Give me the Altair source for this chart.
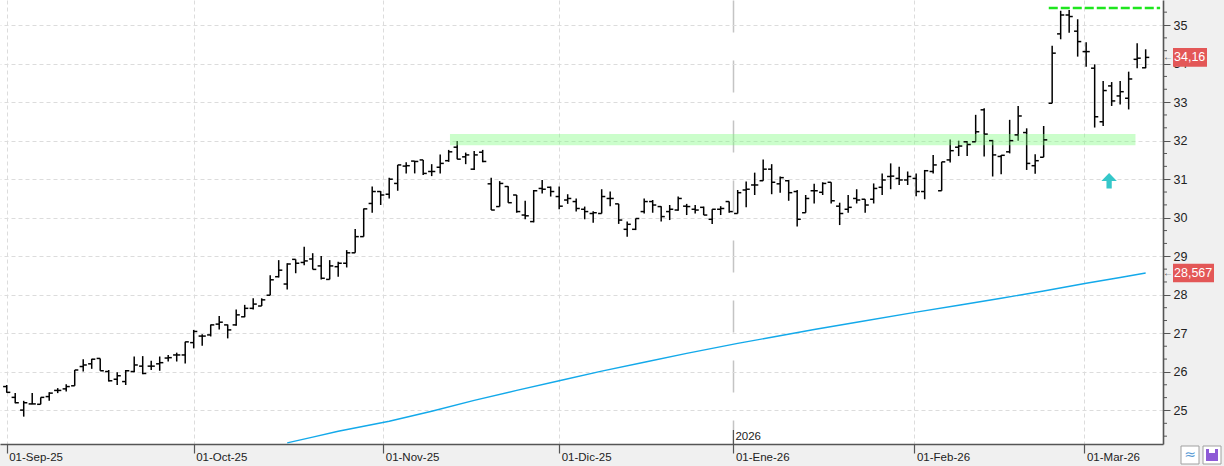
import json
import altair as alt
import pandas as pd

# ---------------- data ----------------
opens = [25.62, 25.34, 25.01, 25.17, 25.16, 25.36, 25.52, 25.56, 25.64, 26.14,
         26.21, 26.35, 26.01, 25.81, 25.75, 26.01, 26.15, 26.15, 26.21, 26.36,
         26.44, 26.44, 26.76, 26.93, 26.96, 27.24, 27.22, 27.22, 27.43, 27.65,
         27.71, 27.99, 28.47, 28.28, 28.92, 28.84, 28.93, 28.75, 28.40, 28.73,
         28.82, 29.09, 29.51, 30.37, 30.68, 30.61, 30.89, 31.34, 31.47, 31.50,
         31.20, 31.31, 31.48, 31.83, 31.58, 31.26, 31.70, 30.88, 30.29, 30.81,
         30.59, 30.07, 29.90, 30.76, 30.79, 30.55, 30.46, 30.42, 30.22, 30.11,
         30.11, 30.50, 30.36, 29.70, 29.70, 30.16, 30.42, 30.29, 30.16, 30.20,
         30.30, 30.22, 30.27, 29.96, 30.22, 30.42, 30.11, 30.72, 30.85, 30.96,
         31.26, 30.88, 30.96, 30.68, 30.13, 30.70, 30.66, 30.92, 30.30, 30.22,
         30.50, 30.48, 30.48, 30.79, 31.07, 31.02, 30.98, 31.02, 30.68, 31.20,
         30.70, 31.50, 31.83, 31.97, 31.97, 32.80, 32.00, 31.59, 31.71, 32.15,
         32.21, 31.35, 31.57, 32.97, 34.77, 35.26, 34.84, 34.31, 33.88, 32.49,
         33.42, 33.16, 33.10, 34.11, 33.89]
highs = [25.66, 25.45, 25.25, 25.45, 25.34, 25.47, 25.58, 25.68, 26.05, 26.33,
         26.34, 26.35, 26.05, 25.99, 26.05, 26.40, 26.41, 26.29, 26.40, 26.44,
         26.50, 26.78, 27.09, 26.98, 27.23, 27.45, 27.23, 27.62, 27.74, 27.91,
         27.91, 28.51, 28.90, 28.82, 28.92, 29.25, 29.08, 29.01, 28.90, 28.86,
         29.16, 29.71, 30.24, 30.81, 30.69, 31.04, 31.37, 31.44, 31.47, 31.50,
         31.39, 31.64, 31.76, 31.99, 31.69, 31.73, 31.76, 31.04, 30.95, 30.82,
         30.59, 30.44, 30.72, 30.98, 30.81, 30.81, 30.61, 30.50, 30.29, 30.17,
         30.74, 30.68, 30.36, 29.90, 29.98, 30.50, 30.46, 30.30, 30.33, 30.55,
         30.36, 30.33, 30.29, 30.22, 30.30, 30.42, 30.72, 30.94, 31.17, 31.51,
         31.39, 31.07, 30.98, 30.72, 30.59, 30.88, 30.92, 30.92, 30.39, 30.59,
         30.74, 30.48, 30.89, 31.15, 31.41, 31.32, 31.20, 31.15, 31.24, 31.63,
         31.45, 32.03, 32.00, 31.99, 32.67, 32.84, 32.02, 31.63, 32.54, 32.90,
         32.32, 31.65, 32.38, 34.46, 35.37, 35.39, 35.15, 34.55, 33.98, 33.55,
         33.52, 33.55, 33.79, 34.53, 34.37]
lows = [25.46, 25.19, 24.84, 25.16, 25.16, 25.25, 25.45, 25.49, 25.64, 26.01,
        26.08, 26.03, 25.75, 25.66, 25.66, 25.99, 25.94, 26.05, 26.03, 26.27,
        26.27, 26.22, 26.61, 26.68, 26.92, 27.10, 26.87, 27.20, 27.42, 27.62,
        27.71, 27.99, 28.45, 28.14, 28.56, 28.77, 28.66, 28.40, 28.40, 28.47,
        28.71, 29.09, 29.51, 30.13, 30.33, 30.50, 30.70, 31.15, 31.15, 31.11,
        31.08, 31.15, 31.45, 31.52, 31.39, 31.24, 31.44, 30.20, 30.29, 30.39,
        30.13, 29.96, 29.88, 30.63, 30.55, 30.22, 30.36, 30.16, 29.96, 29.87,
        30.11, 30.30, 29.84, 29.51, 29.68, 30.11, 30.13, 29.90, 29.94, 30.18,
        30.07, 30.11, 30.07, 29.84, 30.07, 30.13, 30.11, 30.27, 30.59, 30.96,
        30.61, 30.65, 30.44, 29.77, 30.13, 30.37, 30.59, 30.37, 29.81, 30.13,
        30.37, 30.13, 30.37, 30.59, 30.74, 30.85, 30.85, 30.56, 30.48, 31.15,
        30.70, 31.43, 31.60, 31.60, 31.97, 31.59, 31.07, 31.13, 31.67, 32.00,
        31.24, 31.14, 31.57, 32.97, 34.63, 34.80, 34.18, 33.92, 32.34, 32.38,
        32.90, 32.94, 32.81, 33.88, 33.88]
closes = [25.47, 25.20, 25.20, 25.17, 25.34, 25.45, 25.52, 25.62, 26.05, 26.18,
          26.33, 26.03, 25.77, 25.90, 26.03, 26.18, 25.96, 26.15, 26.24, 26.37,
          26.44, 26.78, 27.05, 26.93, 27.22, 27.29, 27.09, 27.48, 27.65, 27.76,
          27.87, 28.39, 28.64, 28.80, 28.82, 28.88, 28.66, 28.43, 28.75, 28.82,
          29.09, 29.51, 30.23, 30.68, 30.59, 31.00, 31.37, 31.35, 31.46, 31.15,
          31.20, 31.41, 31.71, 31.52, 31.63, 31.63, 31.46, 30.20, 30.89, 30.39,
          30.16, 30.05, 30.70, 30.74, 30.68, 30.30, 30.50, 30.24, 30.16, 30.13,
          30.55, 30.50, 29.94, 29.83, 29.98, 30.42, 30.33, 30.03, 30.22, 30.50,
          30.29, 30.20, 30.07, 30.22, 30.24, 30.16, 30.65, 30.74, 30.85, 31.26,
          30.92, 31.04, 30.65, 29.96, 30.50, 30.70, 30.89, 30.44, 30.11, 30.27,
          30.46, 30.33, 30.76, 30.98, 31.08, 30.98, 31.07, 30.68, 31.22, 31.37,
          31.45, 31.74, 31.86, 31.90, 32.23, 32.17, 31.63, 31.62, 32.00, 32.64,
          31.41, 31.48, 32.02, 34.27, 35.26, 35.22, 34.57, 34.31, 32.62, 33.30,
          33.03, 33.27, 33.60, 34.14, 34.16]

# moving average (blue line), read at selected bars
sma_bar = [33, 36, 39, 42, 45, 50, 55, 60, 65, 70, 75, 80, 86, 90, 95, 100,
           107, 112, 117, 122, 127, 131, 134]
sma_val = [24.16, 24.31, 24.46, 24.59, 24.72, 24.98, 25.26, 25.52, 25.77, 26.02,
           26.25, 26.48, 26.74, 26.90, 27.10, 27.29, 27.55, 27.73, 27.91, 28.10,
           28.30, 28.45, 28.567]

# month starts (bar position) and their labels
month_pos = [0, 22, 44.3, 65, 85.5, 106.8, 126.8]
month_labels = ["01-Sep-25", "01-Oct-25", "01-Nov-25", "01-Dic-25",
                "01-Ene-26", "01-Feb-26", "01-Mar-26"]
year_pos = [85.5]
year_label = ["2026"]

y_ticks = list(range(25, 36))
minor_ticks = [k / 3 for k in range(73, 107) if k % 3]

# support zone (green band), resistance line (dashed), signal arrow
zone_x = [52.15, 132.8]
zone_y = [31.88, 32.17]
resist_x = [122.6, 135.7]
resist_y = [35.44]
arrow_x = [129.7]
arrow_y = [30.96]

# price tags on the right axis
tag_values = [34.16, 28.567]
tag_texts = ["34,16", "28,567"]

# ---------------- chart ----------------
W, H = 1163, 444
FONT = "Liberation Sans"
xs = alt.Scale(domain=[-0.79, 136.04], nice=False, zero=False)
ys = alt.Scale(domain=[24.13, 35.649], nice=False, zero=False)

bars = pd.DataFrame({"i": list(range(len(opens))), "open": opens, "high": highs,
                     "low": lows, "close": closes})

label_expr = f"{json.dumps(month_labels)}[indexof({json.dumps(month_pos)}, datum.value)]"
is_year = f"datum.value == {year_pos[0]}"

x_axis = alt.Axis(
    values=month_pos, labelExpr=label_expr, title=None, orient="bottom",
    grid=True,
    gridColor={"condition": {"test": is_year, "value": "#c4c4c4"}, "value": "#dcdcdc"},
    gridDash={"condition": {"test": is_year, "value": [32, 28]}, "value": [4, 3]},
    gridWidth={"condition": {"test": is_year, "value": 1.5}, "value": 1},
    domainColor="#555555", domainWidth=1.6, tickColor="#555555", tickSize=9,
    tickWidth=1.2, labelAlign="left", labelBaseline="top", labelOffset=2,
    labelPadding=-2, labelFont=FONT, labelFontSize=11.5, labelColor="#222222",
    labelOverlap=False, labelFlush=False, labelBound=False,
)
y_axis = alt.Axis(
    values=y_ticks, title=None, orient="right", grid=True, gridColor="#dcdcdc",
    gridDash=[4, 3], domainColor="#555555", domainWidth=1.6, tickColor="#555555",
    tickSize=7, tickWidth=1, labelPadding=3, labelFont=FONT, labelFontSize=12.5,
    labelColor="#222222", labelBaseline="middle", labelOverlap=False, labelFlush=False,
)


def X(field):
    return alt.X(field, scale=xs, axis=x_axis)


def Y(field):
    return alt.Y(field, scale=ys, axis=y_axis)


hl = alt.Chart(bars).mark_rule(color="black", strokeWidth=1.5).encode(
    x=X("i:Q"), y=Y("low:Q"), y2="high:Q",
)
op = alt.Chart(bars).mark_rule(color="black", strokeWidth=1.5, xOffset=-3.6, x2Offset=0).encode(
    x=X("i:Q"), x2="i:Q", y=Y("open:Q"),
)
cl = alt.Chart(bars).mark_rule(color="black", strokeWidth=1.5, xOffset=0, x2Offset=3.6).encode(
    x=X("i:Q"), x2="i:Q", y=Y("close:Q"),
)

zone = alt.Chart(pd.DataFrame({"x1": [zone_x[0]], "x2": [zone_x[1]],
                               "y1": [zone_y[0]], "y2": [zone_y[1]]})).mark_rect(
    color="#7cfc7c", opacity=0.4).encode(
    x=X("x1:Q"), x2="x2:Q", y=Y("y1:Q"), y2="y2:Q",
)

sma = alt.Chart(pd.DataFrame({"i": sma_bar, "v": sma_val})).mark_line(
    color="#13a9ea", strokeWidth=1.4, clip=True).encode(
    x=X("i:Q"), y=Y("v:Q"),
)

resist = alt.Chart(pd.DataFrame({"x1": [resist_x[0]], "x2": [resist_x[1]], "y": resist_y})).mark_rule(
    color="#1ee61e", strokeWidth=2.6, strokeDash=[9, 3]).encode(
    x=X("x1:Q"), x2="x2:Q", y=Y("y:Q"),
)

arrow_path = "M0,-1 L1,0.05 L0.34,0.05 L0.34,1 L-0.34,1 L-0.34,0.05 L-1,0.05 Z"
arrow = alt.Chart(pd.DataFrame({"x": arrow_x, "y": arrow_y})).mark_point(
    shape=arrow_path, filled=True, color="#35c7c9", opacity=1, size=240).encode(
    x=X("x:Q"), y=Y("y:Q"),
)

minor = alt.Chart(pd.DataFrame({"v": minor_ticks})).mark_rule(color="#555555", strokeWidth=1).encode(
    x=alt.value(W), x2=alt.value(W + 4), y=Y("v:Q"),
)

year_df = pd.DataFrame({"x": year_pos, "t": year_label})
year_tick = alt.Chart(year_df).mark_rule(color="#555555", strokeWidth=1.2).encode(
    x=X("x:Q"), y=alt.value(H - 14), y2=alt.value(H),
)
year_text = alt.Chart(year_df).mark_text(
    align="left", baseline="alphabetic", dx=2, font=FONT, fontSize=11.5, color="#222222").encode(
    x=X("x:Q"), y=alt.value(H - 4), text="t:N",
)

tag_layers = []
for v, t in zip(tag_values, tag_texts):
    df = pd.DataFrame({"v": [v], "t": [t]})
    w = 7 * len(t) - 1
    box = alt.Chart(df).mark_rect(color="#e35757", yOffset=-9.3, y2Offset=9.3).encode(
        x=alt.value(W + 10), x2=alt.value(W + 10 + w), y=Y("v:Q"), y2="v:Q",
    )
    txt = alt.Chart(df).mark_text(align="left", baseline="middle", font=FONT,
                                  fontSize=12.5, color="white").encode(
        x=alt.value(W + 11), y=Y("v:Q"), text="t:N",
    )
    mark = alt.Chart(df).mark_text(align="center", baseline="middle", font=FONT,
                                   fontSize=10, color="#555555").encode(
        x=alt.value(W + 5), y=Y("v:Q"), text=alt.value("←"),
    )
    tag_layers += [box, txt, mark]

# small toolbar icons at the bottom right
icons = pd.DataFrame({"a": [0]})
icon1 = alt.Chart(icons).mark_rect(fill="white", stroke="#a0a0a0", strokeWidth=1).encode(
    x=alt.value(W + 18), x2=alt.value(W + 36), y=alt.value(H + 2), y2=alt.value(H + 20))
icon1g = alt.Chart(icons).mark_text(font="DejaVu Sans", fontSize=14, color="#5b9bd5").encode(
    x=alt.value(W + 27), y=alt.value(H + 11), text=alt.value("≈"))
icon2 = alt.Chart(icons).mark_rect(fill="white", stroke="#a0a0a0", strokeWidth=1).encode(
    x=alt.value(W + 40), x2=alt.value(W + 58), y=alt.value(H + 2), y2=alt.value(H + 20))
icon2g = alt.Chart(icons).mark_rect(fill="#8e5bd6").encode(
    x=alt.value(W + 43), x2=alt.value(W + 55), y=alt.value(H + 5), y2=alt.value(H + 17))
icon2h = alt.Chart(icons).mark_rect(fill="white").encode(
    x=alt.value(W + 46), x2=alt.value(W + 52), y=alt.value(H + 5), y2=alt.value(H + 9))

chart = alt.layer(
    hl, zone, sma, op, cl, resist, arrow, minor, year_tick, year_text,
    *tag_layers, icon1, icon1g, icon2, icon2g, icon2h,
).properties(
    width=W, height=H,
    autosize=alt.AutoSizeParams(type="none"),
    padding={"left": 0, "top": 0, "right": 61, "bottom": 22},
    background="#f0f0f0",
).configure_view(stroke=None, fill="white")

chart.save("out.html", embed_options={"renderer": "svg", "actions": False})
